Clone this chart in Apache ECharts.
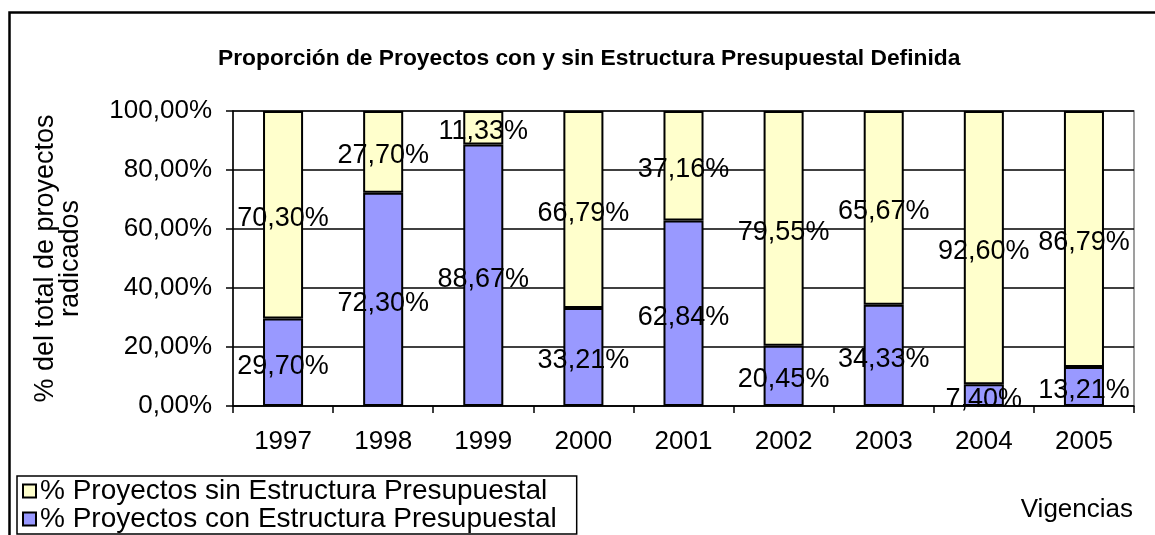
<!DOCTYPE html>
<html><head><meta charset="utf-8">
<script src="https://cdn.jsdelivr.net/npm/echarts@6/dist/echarts.min.js"></script>
<style>html,body{margin:0;padding:0;background:#fff}#c{width:1155px;height:535px}</style>
</head><body><div id="c"></div>
<script>
const years = ['1997','1998','1999','2000','2001','2002','2003','2004','2005'];
const conEstructura = [29.70, 72.30, 88.67, 33.21, 62.84, 20.45, 34.33, 7.40, 13.21];
const sinEstructura = [70.30, 27.70, 11.33, 66.79, 37.16, 79.55, 65.67, 92.60, 86.79];
const yTicks = [0, 20, 40, 60, 80, 100];
const titleText = 'Proporción de Proyectos con y sin Estructura Presupuestal Definida';
const nameSin = '% Proyectos sin Estructura Presupuestal';
const nameCon = '% Proyectos con Estructura Presupuestal';

const FONT = 'Liberation Sans, Arial, sans-serif';
const fmt = v => v.toFixed(2).replace('.', ',') + '%';
const chart = echarts.init(document.getElementById('c'));
const barLabel = { show: true, position: 'inside', fontSize: 27, color: '#000', fontFamily: FONT,
  offset: [0, 4], formatter: p => fmt(p.value) };
chart.setOption({
  animation: false,
  textStyle: { fontFamily: FONT, color: '#000' },
  title: {
    text: titleText, left: 218, top: 47, padding: 0,
    textStyle: { fontFamily: FONT, fontWeight: 'bold', fontSize: 22.8, color: '#000' }
  },
  graphic: [
    { type: 'rect', left: 7, top: 10, shape: { width: 1160, height: 540 },
      style: { fill: 'none', stroke: '#000', lineWidth: 2.5 }, z: 0 },
    { type: 'text', right: 22, top: 497,
      style: { text: 'Vigencias', font: '26px ' + FONT, fill: '#000' } }
  ],
  legend: {
    orient: 'vertical', left: 17, top: 476,
    data: [nameSin, nameCon],
    itemWidth: 13, itemHeight: 13, itemGap: 0,
    icon: 'rect',
    padding: [1, 20, 1, 5],
    borderColor: '#000', borderWidth: 1.5,
    textStyle: { fontFamily: FONT, fontSize: 28, lineHeight: 26, color: '#000', padding: [0, 0, 0, -1] }
  },
  grid: { left: 233, right: 21, top: 111, bottom: 129, show: true, borderColor: '#808080', borderWidth: 1.5 },
  xAxis: {
    type: 'category', data: years,
    axisLine: { lineStyle: { color: '#000', width: 1.5 } },
    axisTick: { show: true, length: 7, lineStyle: { color: '#000', width: 1.5 } },
    axisLabel: { fontSize: 26, color: '#000', margin: 23, fontFamily: FONT }
  },
  yAxis: {
    type: 'value', min: yTicks[0], max: yTicks[yTicks.length - 1], interval: 20,
    name: '% del total de proyectos\nradicados', nameLocation: 'middle', nameGap: 150,
    nameTextStyle: { fontSize: 27, color: '#000', fontFamily: FONT, lineHeight: 25 },
    axisLine: { show: true, lineStyle: { color: '#000', width: 1.5 } },
    axisTick: { show: true, length: 7, lineStyle: { color: '#000', width: 1.5 } },
    splitLine: { lineStyle: { color: '#000', width: 1.5 } },
    axisLabel: { fontSize: 26, color: '#000', margin: 21, fontFamily: FONT, formatter: v => fmt(v) }
  },
  series: [
    { name: nameCon, type: 'bar', stack: 'a', data: conEstructura, barWidth: '40%',
      itemStyle: { color: '#9999FF', borderColor: '#000', borderWidth: 2 },
      label: barLabel },
    { name: nameSin, type: 'bar', stack: 'a', data: sinEstructura, barWidth: '40%',
      itemStyle: { color: '#FFFFCC', borderColor: '#000', borderWidth: 2 },
      label: barLabel }
  ]
});
</script></body></html>
